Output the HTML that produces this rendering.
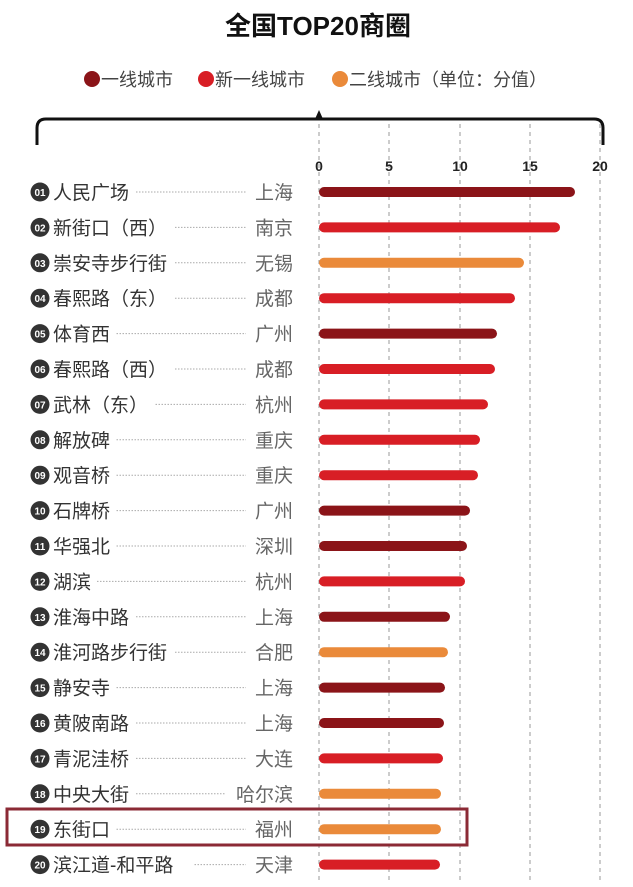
<!DOCTYPE html>
<html><head><meta charset="utf-8"><style>
body{margin:0;background:#fff;width:633px;height:882px;overflow:hidden;font-family:"Liberation Sans","Noto Sans CJK SC",sans-serif;}
</style></head><body>
<svg width="633" height="882" xmlns="http://www.w3.org/2000/svg" style="font-family:'Liberation Sans','Noto Sans CJK SC',sans-serif">
<text x="318" y="35" text-anchor="middle" font-size="26" font-weight="bold" fill="#111">全国TOP20商圈</text>
<g font-size="18" fill="#444">
<circle cx="92" cy="79" r="8" fill="#8b1418"/>
<text x="101" y="86">一线城市</text>
<circle cx="206" cy="79" r="8" fill="#d81e25"/>
<text x="215" y="86">新一线城市</text>
<circle cx="340" cy="79" r="8" fill="#ea8a3a"/>
<text x="349" y="86">二线城市（单位：分值）</text>
</g>
<path d="M37,145 V128 Q37,119 46,119 H594 Q603,119 603,128 V145" fill="none" stroke="#111" stroke-width="3"/>
<polygon points="315,119 319,110 323,119" fill="#111"/>
<g stroke="#999" stroke-width="1" stroke-dasharray="4,4">
<line x1="319" y1="124" x2="319" y2="882"/><line x1="389" y1="124" x2="389" y2="882"/>
<line x1="460" y1="124" x2="460" y2="882"/><line x1="530" y1="124" x2="530" y2="882"/>
<line x1="600" y1="124" x2="600" y2="882"/>
</g>
<g font-size="14" font-weight="bold" fill="#222" text-anchor="middle">
<text x="319" y="171">0</text><text x="389" y="171">5</text><text x="460" y="171">10</text><text x="530" y="171">15</text><text x="600" y="171">20</text>
</g>
<rect x="7" y="809" width="460" height="36" fill="none" stroke="#8b2a35" stroke-width="3"/>
<g id="rows"></g>
</svg>
<script>
const d=[["人民广场","上海",575,0],["新街口（西）","南京",560,1],["崇安寺步行街","无锡",524,2],["春熙路（东）","成都",515,1],["体育西","广州",497,0],["春熙路（西）","成都",495,1],["武林（东）","杭州",488,1],["解放碑","重庆",480,1],["观音桥","重庆",478,1],["石牌桥","广州",470,0],["华强北","深圳",467,0],["湖滨","杭州",465,1],["淮海中路","上海",450,0],["淮河路步行街","合肥",448,2],["静安寺","上海",445,0],["黄陂南路","上海",444,0],["青泥洼桥","大连",443,1],["中央大街","哈尔滨",441,2],["东街口","福州",441,2],["滨江道-和平路","天津",440,1]];
const col=["#8b1418","#d81e25","#ea8a3a"];
let s="";
d.forEach((r,i)=>{const y=192+i*35.4;const n=String(i+1).padStart(2,"0");
const nw=r[0].length*19.5;const cw=r[1].length*21;
s+=`<circle cx="40" cy="${y}" r="9.5" fill="#333"/><text x="40" y="${y+4}" font-size="10" font-weight="bold" fill="#fff" text-anchor="middle">${n}</text>`;
s+=`<text x="53" y="${y+7}" font-size="19" fill="#333">${r[0]}</text>`;
s+=`<line x1="${58+nw}" y1="${y}" x2="${288-cw}" y2="${y}" stroke="#aaa" stroke-width="1" stroke-dasharray="1.5,1.5"/>`;
s+=`<text x="293" y="${y+7}" font-size="19" fill="#666" text-anchor="end">${r[1]}</text>`;
s+=`<line x1="324" y1="${y}" x2="${r[2]-5}" y2="${y}" stroke="${col[r[3]]}" stroke-width="10" stroke-linecap="round"/>`;});
document.getElementById("rows").innerHTML=s;
</script>
</body></html>
